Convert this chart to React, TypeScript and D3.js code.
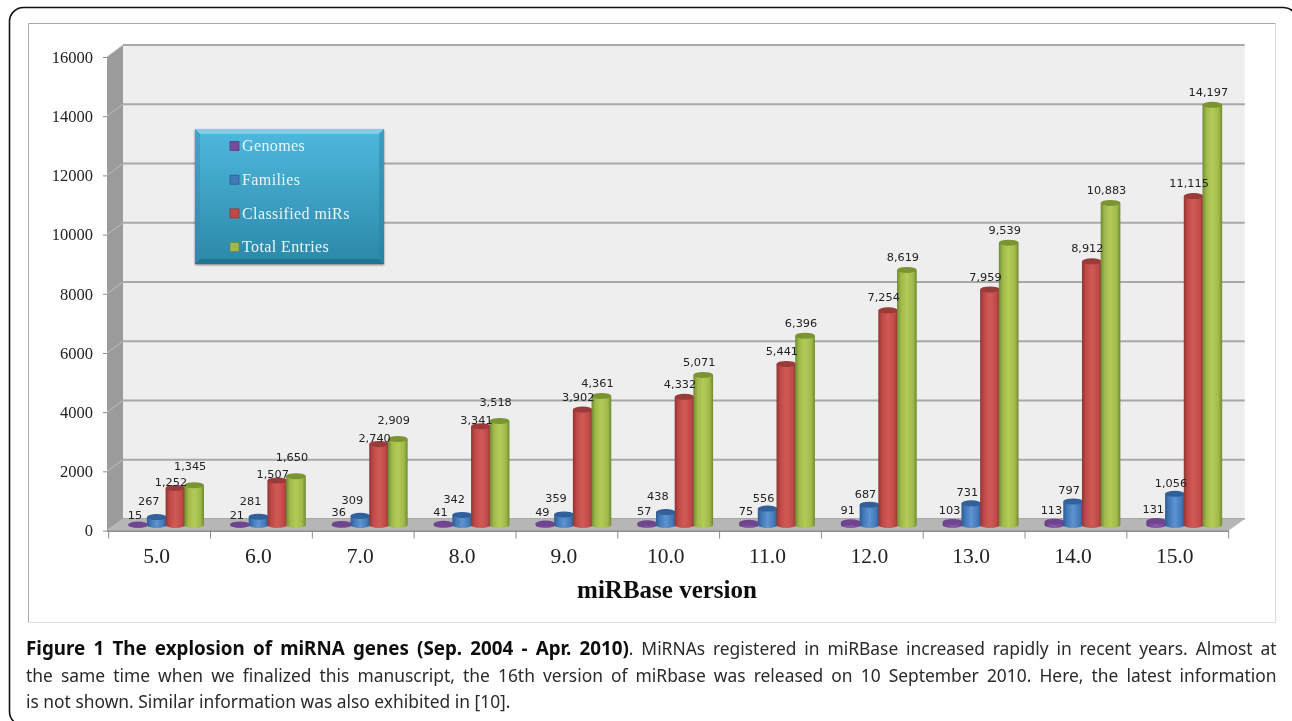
import React, { useEffect, useRef } from 'react';
import * as d3 from 'd3';

const versions = ['5.0', '6.0', '7.0', '8.0', '9.0', '10.0', '11.0', '12.0', '13.0', '14.0', '15.0'];
const seriesNames = ['Genomes', 'Families', 'Classified miRs', 'Total Entries'];
const genomes = [15, 21, 36, 41, 49, 57, 75, 91, 103, 113, 131];
const families = [267, 281, 309, 342, 359, 438, 556, 687, 731, 797, 1056];
const classified = [1252, 1507, 2740, 3341, 3902, 4332, 5441, 7254, 7959, 8912, 11115];
const totals = [1345, 1650, 2909, 3518, 4361, 5071, 6396, 8619, 9539, 10883, 14197];
const seriesValues = [genomes, families, classified, totals];
const yTicks = [0, 2000, 4000, 6000, 8000, 10000, 12000, 14000, 16000];

// light, mid, dark, cap
const palette = [
  ['#8a5aa8', '#7a4c9a', '#5f3a80', '#6f4590'],
  ['#5f93cf', '#4279b8', '#2f5c94', '#30609a'],
  ['#d05a57', '#c04a47', '#8f3533', '#993a38'],
  ['#b4cb58', '#a0b94a', '#6f8a30', '#7a9430'],
];

const captionLines = [
  [
    { t: 'Figure 1 The explosion of miRNA genes (Sep. 2004 - Apr. 2010)', b: true },
    { t: '. MiRNAs registered in miRBase increased rapidly in recent years. Almost at', b: false },
  ],
  [{ t: 'the same time when we finalized this manuscript, the 16th version of miRbase was released on 10 September 2010. Here, the latest information', b: false }],
  [{ t: 'is not shown. Similar information was also exhibited in [10].', b: false }],
];

const W = 1292;
const H = 721;
const serif = '"Liberation Serif", serif';
const fmt = d3.format(',');

const x0 = d3.scaleBand<string>().domain(versions).range([108.7, 1228.7]);
const x1 = d3.scaleBand<string>().domain(seriesNames).range([20, 94.8]);
const yFront = d3.scaleLinear().domain([0, 16000]).range([530.5, 57]);
const yBack = d3.scaleLinear().domain([0, 16000]).range([519, 45]);
const yBar = d3.scaleLinear().domain([0, 16000]).range([525, 51.5]);

const wallLeft = x0.range()[0] - 1.7;
const wallRight = x0.range()[1];
const depth = 16;

// the labels were dragged by hand in the original, so the gaps differ by group
const labelDx = (s: number, i: number) => [-3, i < 6 ? -8 : -4, -4.5, -4][s];
const labelGap = (s: number, i: number) => {
  if (s === 0) return i < 2 ? 9.5 : 12;
  if (s === 1) return i < 6 ? 16 : 11;
  if (s === 2) return i < 4 ? 6 : 13;
  return i < 4 ? 19 : 13;
};

const cylinder = (cx: number, top: number, base: number, rx: number, ry: number) =>
  `M${cx - rx},${top}L${cx - rx},${base}A${rx},${ry} 0 0 0 ${cx + rx},${base}L${cx + rx},${top}Z`;

export default function App() {
  const yAxisRef = useRef<SVGGElement>(null);
  const xAxisRef = useRef<SVGGElement>(null);
  const captionRef = useRef<SVGGElement>(null);

  useEffect(() => {
    const yAxis = d3.axisLeft(yFront).tickValues(yTicks).tickSize(4).tickPadding(10).tickFormat(d3.format('d') as any);
    const yG = d3.select(yAxisRef.current!).call(yAxis as any);
    yG.select('.domain').remove();
    yG.selectAll('line').attr('stroke', '#8c8c8c');
    yG.selectAll('text')
      .attr('font-family', serif)
      .attr('font-size', 16.5)
      .attr('fill', '#222');

    const xAxis = d3.axisBottom(x0).tickSize(0).tickPadding(17);
    const xG = d3.select(xAxisRef.current!).call(xAxis as any);
    xG.select('.domain').remove();
    xG.selectAll('text')
      .attr('font-family', serif)
      .attr('font-size', 21.5)
      .attr('fill', '#222');

    // justify the caption lines
    d3.select(captionRef.current!)
      .selectAll<SVGTextElement, unknown>('text.just')
      .each(function () {
        const spaces = (this.textContent || '').split(' ').length - 1;
        const len = this.getComputedTextLength();
        d3.select(this).attr('word-spacing', (1250.5 - len) / spaces);
      });
  }, []);

  return (
    <svg
      width={W}
      height={H}
      viewBox={`0 0 ${W} ${H}`}
      style={{ position: 'absolute', left: 0, top: 0, background: '#fff' }}
    >
      <defs>
        {palette.map((c, s) => (
          <linearGradient key={s} id={`cyl${s}`} x1="0" x2="1" y1="0" y2="0">
            <stop offset="0" stopColor={c[2]} />
            <stop offset="0.2" stopColor={c[1]} />
            <stop offset="0.5" stopColor={c[0]} />
            <stop offset="0.82" stopColor={c[1]} />
            <stop offset="1" stopColor={c[2]} />
          </linearGradient>
        ))}
        <linearGradient id="legendBg" x1="0" x2="0" y1="0" y2="1">
          <stop offset="0" stopColor="#4fb8de" />
          <stop offset="1" stopColor="#2b88a8" />
        </linearGradient>
        <filter id="legendShadow" x="-5%" y="-5%" width="110%" height="110%">
          <feDropShadow dx="0" dy="1" stdDeviation="1.2" floodColor="#000" floodOpacity="0.5" />
        </filter>
        <filter id="soft" x="-2%" y="-2%" width="104%" height="104%">
          <feGaussianBlur stdDeviation="0.35" />
        </filter>
      </defs>

      {/* outer frame and chart box */}
      <rect x={9.5} y={7.5} width={1288} height={718} rx={14} fill="none" stroke="#111" strokeWidth={1.6} />
      <path d="M28.5,622.5V23.5H1275.5" fill="none" stroke="#a8a8a8" />
      <path d="M1275.5,23.5V622.5H28.5" fill="none" stroke="#dcdcdc" />

      <g filter="url(#soft)">
        {/* walls and floor */}
        <rect x={wallLeft + depth} y={yBack(16000)} width={wallRight - wallLeft} height={yBack(0) - yBack(16000)} fill="#eeeeee" />
        <path
          d={`M${wallLeft},${yFront(0)}L${wallLeft},${yFront(16000)}L${wallLeft + depth},${yBack(16000)}L${wallLeft + depth},${yBack(0)}Z`}
          fill="#9b9b9b"
        />
        {yTicks.map((t) => (
          <g key={t}>
            <line x1={wallLeft} x2={wallLeft + depth} y1={yFront(t)} y2={yBack(t)} stroke="#bdbdbd" />
            <line x1={wallLeft + depth} x2={wallRight + depth} y1={yBack(t)} y2={yBack(t)} stroke="#a8a8a8" strokeWidth={1.8} />
          </g>
        ))}
        <path
          d={`M${wallLeft},${yFront(0)}L${wallLeft + depth},${yBack(0)}L${wallRight + depth},${yBack(0)}L${wallRight},${yFront(0)}Z`}
          fill="#b6b6b6"
        />
        <line x1={wallLeft} x2={wallRight} y1={yFront(0) + 0.6} y2={yFront(0) + 0.6} stroke="#8f8f8f" strokeWidth={1.6} />

        {/* ticks between categories */}
        {[...versions.map((v) => x0(v)!), x0.range()[1]].map((tx, i) => (
          <line key={i} x1={tx} x2={tx} y1={yFront(0)} y2={yFront(0) + 8} stroke="#8c8c8c" />
        ))}
        <g ref={yAxisRef} transform={`translate(${wallLeft},0)`} />
        <g ref={xAxisRef} transform={`translate(-3,${yFront(0)})`} />

        {/* legend */}
        <g>
          <rect x={195} y={129} width={189} height={135} fill="url(#legendBg)" filter="url(#legendShadow)" />
          <path d="M195,129H384L379,134H200Z" fill="#9ad6ea" opacity={0.7} />
          <path d="M195,129L200,134V259L195,264Z" fill="#2f8fb2" opacity={0.45} />
          <path d="M384,129L379,134V259L384,264Z" fill="#2a7f9e" opacity={0.45} />
          <path d="M195,264H384L379,259H200Z" fill="#226f8c" opacity={0.8} />
          {seriesNames.map((name, s) => (
            <g key={name} transform={`translate(230,${146 + s * 33.7})`}>
              <rect x={0} y={-4.5} width={9} height={9} fill={palette[s][1]} stroke={palette[s][2]} strokeWidth={0.8} />
              <text x={12} y={0} dy="0.32em" fontFamily={serif} fontSize={16} letterSpacing={0.4} fill="#e9f5f9">
                {name}
              </text>
            </g>
          ))}
        </g>

        {/* cylinders */}
        {versions.map((v, i) => (
          <g key={v} transform={`translate(${x0(v)},0)`}>
            {seriesNames.map((name, s) => {
              const cx = x1(name)! + x1.bandwidth() / 2;
              const rx = x1.bandwidth() / 2 + 0.5;
              const top = yBar(seriesValues[s][i]);
              const base = yBar(0);
              return (
                <g key={name}>
                  <path d={cylinder(cx, top, base, rx, 3)} fill={`url(#cyl${s})`} />
                  <ellipse cx={cx} cy={top} rx={rx} ry={3} fill={palette[s][3]} />
                </g>
              );
            })}
          </g>
        ))}

        {/* data labels sit above every bar */}
        {versions.map((v, i) => (
          <g key={v} transform={`translate(${x0(v)},0)`}>
            {seriesNames.map((name, s) => (
              <text
                key={name}
                x={x1(name)! + x1.bandwidth() / 2 + labelDx(s, i)}
                y={yBar(seriesValues[s][i]) - labelGap(s, i)}
                dy="0.36em"
                textAnchor="middle"
                fontFamily='"DejaVu Sans", sans-serif'
                fontSize={11.3}
                fill="#222"
              >
                {fmt(seriesValues[s][i])}
              </text>
            ))}
          </g>
        ))}

        <text x={667} y={590} dy="0.32em" textAnchor="middle" fontFamily={serif} fontWeight="bold" fontSize={25} fill="#111">
          miRBase version
        </text>
      </g>

      {/* caption */}
      <g ref={captionRef} fontFamily='"Noto Sans", sans-serif' fontSize={17.4} fill="#2a2a2a" filter="url(#soft)">
        {captionLines.map((line, l) => (
          <text key={l} className={l < 2 ? 'just' : ''} x={26} y={655 + l * 26.5}>
            {line.map((p, k) => (
              <tspan key={k} fontWeight={p.b ? 'bold' : 'normal'} fontSize={p.b ? 18.8 : 17.4} fill={p.b ? '#111' : '#2a2a2a'}>
                {p.t}
              </tspan>
            ))}
          </text>
        ))}
      </g>
    </svg>
  );
}
